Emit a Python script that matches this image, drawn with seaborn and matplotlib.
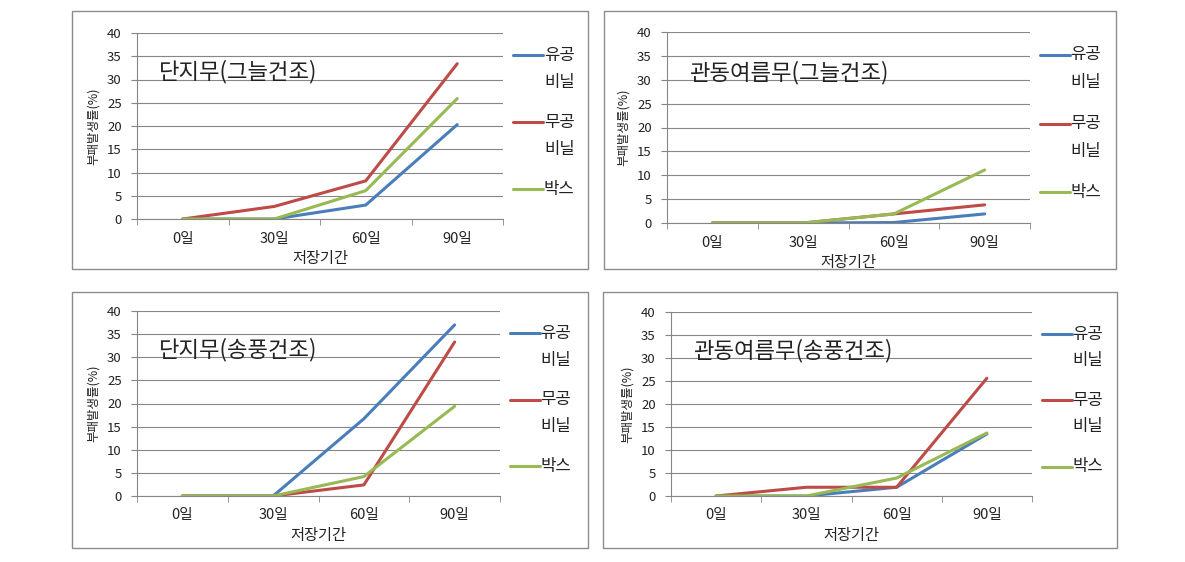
import matplotlib.pyplot as plt
import matplotlib.patches as mpatches
import seaborn as sns
import pandas as pd
import numpy as np

days = ["0일", "30일", "60일", "90일"]
series_names = ["유공\n비닐", "무공\n비닐", "박스"]
titles = ["단지무(그늘건조)", "관동여름무(그늘건조)", "단지무(송풍건조)", "관동여름무(송풍건조)"]

# values per panel: perforated vinyl, non-perforated vinyl, box
danji_shade_blue = [0, 0, 3.0, 20.3]
danji_shade_red = [0, 2.7, 8.2, 33.4]
danji_shade_green = [0, 0, 6.1, 25.9]

gwandong_shade_blue = [0, 0, 0.1, 1.9]
gwandong_shade_red = [0, 0, 1.9, 3.8]
gwandong_shade_green = [0, 0, 1.9, 11.1]

danji_air_blue = [0, 0, 16.7, 37.0]
danji_air_red = [0, 0, 2.4, 33.3]
danji_air_green = [0, 0, 4.2, 19.4]

gwandong_air_blue = [0, 0, 1.9, 13.5]
gwandong_air_red = [0, 1.9, 1.9, 25.6]
gwandong_air_green = [0, 0, 3.9, 13.7]

panels = [
    [danji_shade_blue, danji_shade_red, danji_shade_green],
    [gwandong_shade_blue, gwandong_shade_red, gwandong_shade_green],
    [danji_air_blue, danji_air_red, danji_air_green],
    [gwandong_air_blue, gwandong_air_red, gwandong_air_green],
]

colors = ["#4A7EBB", "#BE4B48", "#98B954"]

sns.set_style("white")
plt.rcParams['font.family'] = ['Noto Sans CJK KR', 'DejaVu Sans']
txt_c = "#222222"

W, H = 1185, 562
fig = plt.figure(figsize=(W / 100, H / 100), dpi=100)

# pixel boxes: (left, top, right, bottom) for plot area and outer frame
axes_px = [(137, 33, 503, 219), (667, 32, 1030, 223), (137, 311, 500, 496), (671, 312, 1032, 496)]
frames_px = [(72, 11, 588, 269), (604, 11, 1116, 269), (72, 292, 588, 548), (603, 292, 1117, 548)]

grid_c = "#868686"
x = np.arange(len(days))

for i in range(4):
    fl, ft, fr, fb = frames_px[i]
    fig.add_artist(mpatches.Rectangle((fl / W, 1 - fb / H), (fr - fl) / W, (fb - ft) / H,
                                      transform=fig.transFigure, fill=False,
                                      edgecolor="#8c8c8c", lw=1.0))
    l, t, r, b = axes_px[i]
    ax = fig.add_axes([l / W, 1 - b / H, (r - l) / W, (b - t) / H])
    for vals, c in zip(panels[i], colors):
        df = pd.DataFrame({"x": x, "y": vals})
        sns.lineplot(data=df, x="x", y="y", ax=ax, color=c, lw=2.2)
    ax.set_xlim(-0.5, 3.5)
    ax.set_ylim(0, 40)
    ax.set_yticks(np.arange(0, 41, 5))
    ax.yaxis.grid(True, color=grid_c, lw=0.8)
    ax.set_axisbelow(True)
    ax.set_xticks(x)
    ax.set_xticklabels(days, fontsize=10.5, color=txt_c)
    ax.set_xticks(np.arange(-0.5, 3.6, 1), minor=True)
    ax.tick_params(axis="x", which="major", length=0, pad=9)
    ax.tick_params(axis="x", which="minor", length=4, color=grid_c, direction="out", bottom=True)
    ax.tick_params(axis="y", length=4, color=grid_c, direction="out", left=True,
                   labelsize=9.5, labelcolor=txt_c, pad=7)
    for s in ["top", "right"]:
        ax.spines[s].set_visible(False)
    for s in ["left", "bottom"]:
        ax.spines[s].set_color(grid_c)
        ax.spines[s].set_linewidth(0.8)
    ax.set_xlabel("저장기간", fontsize=11, labelpad=3, color=txt_c)
    ax.set_ylabel("부패발생률(%)", fontsize=9, labelpad=5, color=txt_c)
    ax.text(0.06, 0.79, titles[i], transform=ax.transAxes, fontsize=16, ha="left", va="center", color=txt_c)

    # legend drawn at the right, Excel-style
    ys = [0.88, 0.52, 0.16]
    for name, c, yy in zip(series_names, colors, ys):
        ax.plot([1.027, 1.11], [yy, yy], transform=ax.transAxes, color=c, lw=2.2, clip_on=False)
        parts = name.split("\n")
        ax.text(1.112, yy, parts[0], transform=ax.transAxes, fontsize=12, va="center", ha="left", color=txt_c)
        if len(parts) > 1:
            ax.text(1.112, yy - 0.145, parts[1], transform=ax.transAxes, fontsize=12, va="center", ha="left", color=txt_c)

fig.savefig("out.png", dpi=100)
